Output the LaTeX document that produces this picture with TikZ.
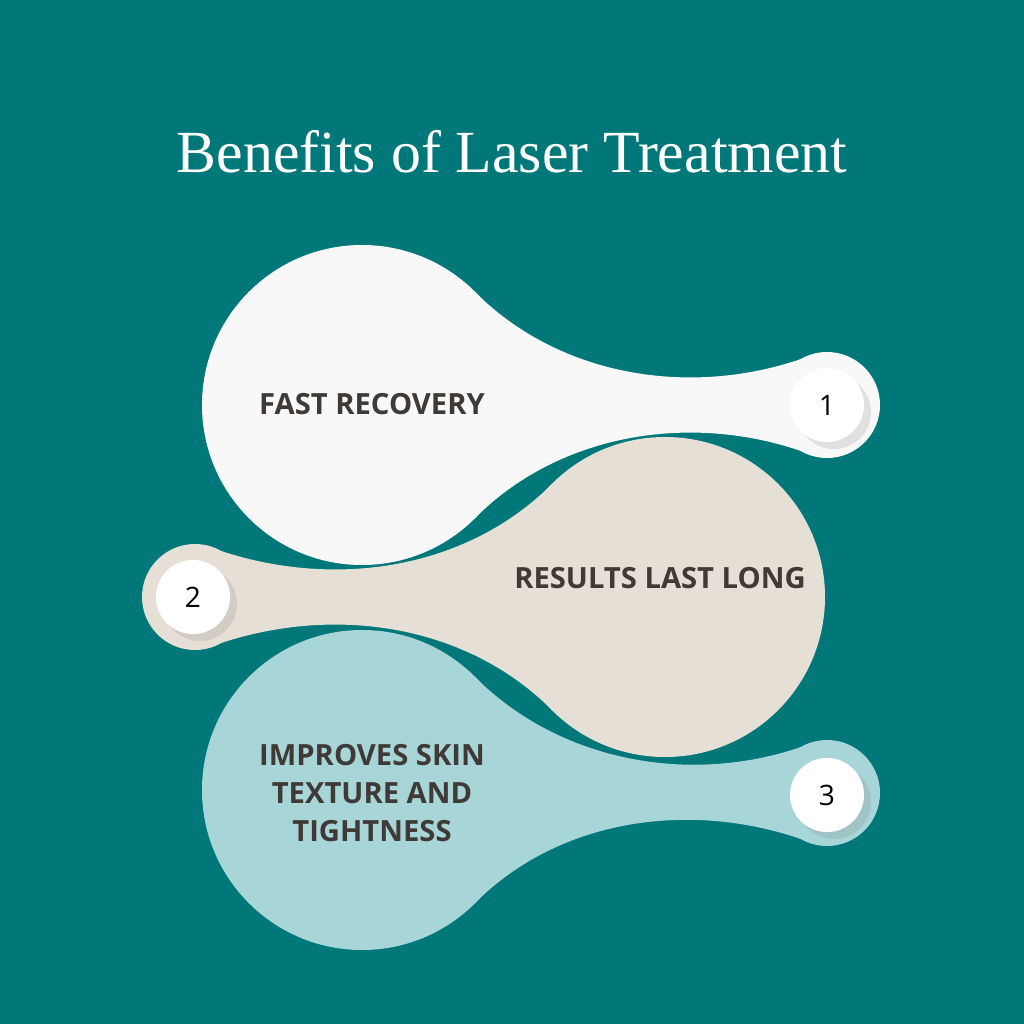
\documentclass[tikz,border=0pt]{standalone}
\usepackage{fontspec}
\setmainfont{Liberation Serif}
\newfontfamily\labelfont{Open Sans}
\usetikzlibrary{shadows}
\definecolor{bgteal}{HTML}{00787A}
\definecolor{dropwhite}{HTML}{F8F8F8}
\definecolor{dropbeige}{HTML}{E6DFD5}
\definecolor{dropteal}{HTML}{A8D5D8}
\definecolor{labelgray}{HTML}{3F3A36}
\tikzset{
    numball/.style={circle, fill=white, minimum size=0.74cm, inner sep=0pt,
        font=\labelfont\fontsize{8}{8}\selectfont, text=black,
        drop shadow={shadow xshift=2pt, shadow yshift=-2pt, opacity=0.2}},
    benefit/.style={font=\labelfont\bfseries\fontsize{8.3}{10.8}\selectfont, text=labelgray, align=center}
}
\begin{document}
\begin{tikzpicture}[x=0.01cm, y=-0.01cm]
        \fill[bgteal] (0,0) rectangle (1024,1024);
        \useasboundingbox (0,0) rectangle (1024,1024);
        \node[text=white, font=\fontsize{17}{17}\selectfont] (title) at (512,152){Benefits of Laser Treatment};

        % first drop
        \fill[dropwhite] (362,405) circle[radius=160];
        \fill[dropwhite] (827,405) circle[radius=53];
        \fill[dropwhite] (475,292) .. controls (560,377) and (690,397) .. (801,359)
            -- (827,405) -- (801,451) .. controls (690,413) and (560,433) .. (475,518) -- (362,405) -- cycle;

        % second drop
        \fill[dropbeige] (665,597) circle[radius=160];
        \fill[dropbeige] (195,597) circle[radius=53];
        \fill[dropbeige] (552,484) .. controls (467,569) and (337,589) .. (221,551)
            -- (195,597) -- (221,643) .. controls (337,605) and (467,625) .. (552,710) -- (665,597) -- cycle;

        % third drop
        \fill[dropteal] (362,790) circle[radius=160];
        \fill[dropteal] (827,793) circle[radius=53];
        \fill[dropteal] (475,677) .. controls (560,762) and (690,785) .. (801,747)
            -- (827,793) -- (801,839) .. controls (690,801) and (560,818) .. (475,903) -- (362,790) -- cycle;

        \node[numball] (one) at (827,405){1};
        \node[numball] (two) at (193,597){2};
        \node[numball] (three) at (827,795){3};

        \node[benefit] (fast) at (372,404){FAST RECOVERY};
        \node[benefit] (last) at (660,578){RESULTS LAST LONG};
        \node[benefit] (skin) at (372,793){IMPROVES SKIN\\TEXTURE AND\\TIGHTNESS};
\end{tikzpicture}
\end{document}
